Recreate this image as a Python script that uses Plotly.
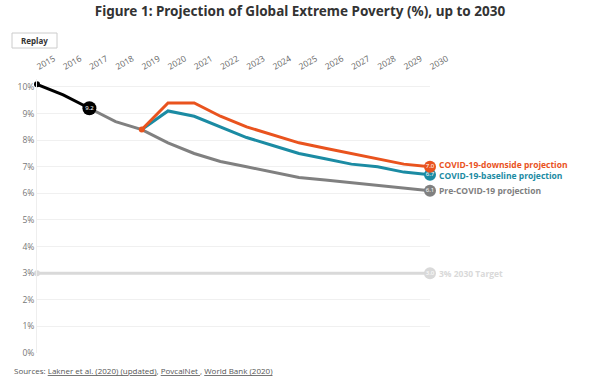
import plotly.graph_objects as go

years_hist = [2015, 2016, 2017]
hist = [10.1, 9.7, 9.2]

years_pre = [2017, 2018, 2019, 2020, 2021, 2022, 2023, 2024, 2025, 2026, 2027, 2028, 2029, 2030]
pre_covid = [9.2, 8.7, 8.4, 7.9, 7.5, 7.2, 7.0, 6.8, 6.6, 6.5, 6.4, 6.3, 6.2, 6.1]

years_covid = [2019, 2020, 2021, 2022, 2023, 2024, 2025, 2026, 2027, 2028, 2029, 2030]
downside = [8.4, 9.4, 9.4, 8.9, 8.5, 8.2, 7.9, 7.7, 7.5, 7.3, 7.1, 7.0]
baseline = [8.4, 9.1, 8.9, 8.5, 8.1, 7.8, 7.5, 7.3, 7.1, 7.0, 6.8, 6.7]

years_target = [2015, 2030]
target = [3.0, 3.0]

x_ticks = list(range(2015, 2031))
y_ticks = list(range(0, 11))

C_DOWN = "#E9531E"
C_BASE = "#1B8BA3"
C_PRE = "#808080"
C_HIST = "#000000"
C_TGT = "#D9D9D9"

W, H = 600, 378
L, R, T, B = 37, 170, 79, 25
PW, PH = W - L - R, H - T - B

def px(x):
    return (x - L) / PW

def py(y):
    return (H - B - y) / PH

fig = go.Figure()

def line(x, y, color, width=3):
    fig.add_trace(go.Scatter(x=x, y=y, mode="lines", line=dict(color=color, width=width),
                             hoverinfo="skip", showlegend=False, cliponaxis=False))

line(years_target, target, C_TGT, 3)
line(years_pre, pre_covid, C_PRE)
line(years_covid, baseline, C_BASE)
line(years_covid, downside, C_DOWN)
line(years_hist, hist, C_HIST)

# start markers
fig.add_trace(go.Scatter(x=[years_hist[0]], y=[hist[0]], mode="markers",
                         marker=dict(color=C_HIST, size=6), showlegend=False, cliponaxis=False))
fig.add_trace(go.Scatter(x=[years_target[0]], y=[target[0]], mode="markers",
                         marker=dict(color=C_TGT, size=6), showlegend=False, cliponaxis=False))
fig.add_trace(go.Scatter(x=[years_covid[0]], y=[downside[0]], mode="markers",
                         marker=dict(color=C_DOWN, size=6), showlegend=False, cliponaxis=False))

# value bubbles
def bubble(x, y, color, size=12):
    fig.add_trace(go.Scatter(x=[x], y=[y], mode="markers+text", text=[f"{y:.1f}"],
                             textposition="middle center",
                             textfont=dict(color="white", size=6, family="Noto Sans"),
                             marker=dict(color=color, size=size, line=dict(width=0)),
                             showlegend=False, cliponaxis=False))

bubble(years_hist[-1], hist[-1], C_HIST, 14)
bubble(years_target[-1], target[-1], C_TGT)
bubble(years_pre[-1], pre_covid[-1], C_PRE)
bubble(years_covid[-1], baseline[-1], C_BASE)
bubble(years_covid[-1], downside[-1], C_DOWN)

labels = [
    ("COVID-19-downside projection", downside[-1] + 0.08, C_DOWN),
    ("COVID-19-baseline projection", baseline[-1] - 0.02, C_BASE),
    ("Pre-COVID-19 projection", pre_covid[-1], C_PRE),
    ("3% 2030 Target", target[-1], C_TGT),
]
annotations = []
for txt, y, col in labels:
    annotations.append(dict(x=2030, y=y, xref="x", yref="y", text=f"<b>{txt}</b>",
                            showarrow=False, xanchor="left", yanchor="middle", xshift=7,
                            font=dict(color=col, size=8.5, family="Open Sans")))

annotations.append(dict(x=px(34.5), y=py(40.5), xref="paper", yref="paper",
                        text="<b>Replay</b>", showarrow=False, xanchor="center", yanchor="middle",
                        font=dict(size=8, color="#333333", family="Noto Sans")))
annotations.append(dict(x=px(12), y=py(370), xref="paper", yref="paper", xanchor="left", yanchor="middle",
                        text="Sources: <u>Lakner et al. (2020) (updated)</u>, <u>PovcalNet </u>, <u>World Bank (2020)</u>",
                        showarrow=False, font=dict(size=8, color="#555555", family="Open Sans")))

fig.update_layout(
    width=W, height=H,
    margin=dict(l=L, r=R, t=T, b=B),
    plot_bgcolor="white", paper_bgcolor="white",
    title=dict(text="<b>Figure 1: Projection of Global Extreme Poverty (%), up to 2030</b>",
               x=0.5, xanchor="center", xref="container", y=1 - 11 / H, yanchor="middle", yref="container",
               font=dict(size=13.5, color="#333333", family="Noto Sans")),
    annotations=annotations,
    shapes=[dict(type="rect", xref="paper", yref="paper", x0=px(12), x1=px(57),
                 y0=py(48), y1=py(33),
                 line=dict(color="#CCCCCC", width=1), fillcolor="white", layer="below")],
    xaxis=dict(range=[2015, 2030], side="top", tickmode="array", tickvals=x_ticks,
               ticktext=[str(v) for v in x_ticks], tickangle=-30, showgrid=False,
               zeroline=False, showline=False, ticks="outside", ticklen=4,
               tickcolor="rgba(0,0,0,0)", automargin=False,
               tickfont=dict(size=8.5, color="#666666", family="Open Sans")),
    yaxis=dict(range=[0, 10.3], tickmode="array", tickvals=y_ticks,
               ticktext=[f"{v}%" for v in y_ticks], showgrid=True, gridcolor="#F0F0F0",
               zeroline=False, showline=True, linecolor="#EEEEEE", automargin=False,
               tickfont=dict(size=8.5, color="#777777", family="Open Sans")),
)
fig.write_html("out.html", config={"displayModeBar": False},
               post_script="document.body.style.margin='0';")
